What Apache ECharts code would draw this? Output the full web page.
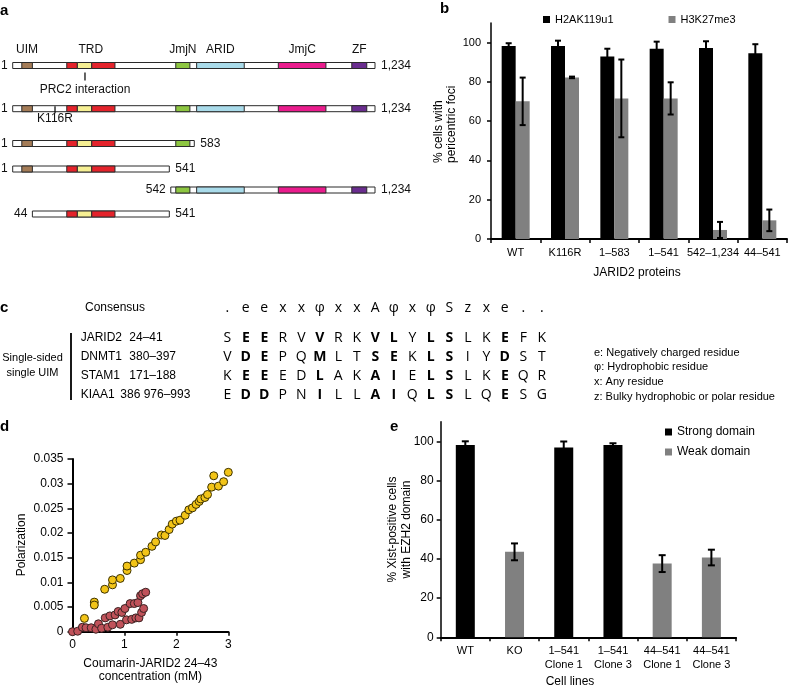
<!DOCTYPE html>
<html><head><meta charset="utf-8">
<script src="https://cdn.jsdelivr.net/npm/echarts@6/dist/echarts.min.js"></script>
<style>html,body{margin:0;padding:0;background:#fff}#c{width:788px;height:688px}</style>
</head><body><div id="c"></div>
<script>
// ---------- Panel a : JARID2 constructs (schematic amino-acid coordinates) ----------
const constructFrom = [1, 1, 1, 1, 539, 68];
const constructTo = [1234, 1234, 619, 534, 1234, 534];
const constructStartLabel = ['1', '1', '1', '1', '542', '44'];
const constructEndLabel = ['1,234', '1,234', '583', '541', '1,234', '541'];
const domainGroup = ['UIM', 'TRD', 'TRD', 'TRD', 'JmjN', 'ARID', 'JmjC', 'ZF'];
const domainStart = [32, 185, 221, 270, 556, 627, 905, 1155];
const domainEnd = [68, 221, 270, 349, 604, 789, 1067, 1206];
const annotationText = ['PRC2 interaction', 'K116R'];
const annotationPos = [247, 145];
const annotationRow = [0, 1];

// ---------- Panel b ----------
const bCategories = ['WT', 'K116R', '1–583', '1–541', '542–1,234', '44–541'];
const bH2AK = [98.3, 98.3, 92.9, 96.9, 97.3, 94.6];
const bH2AKErr = [1.4, 2.7, 4.0, 3.6, 3.4, 4.6];
const bH3K = [70.1, 82.3, 71.6, 71.6, 4.6, 9.5];
const bH3KErr = [12.1, 0.4, 19.8, 8.2, 4.1, 5.5];
const pctTicks = [0, 20, 40, 60, 80, 100];

// ---------- Panel c ----------
const consensus = ['.', 'e', 'e', 'x', 'x', 'φ', 'x', 'x', 'A', 'φ', 'x', 'φ', 'S', 'z', 'x', 'e', '.', '.'];
const uimNames = ['JARID2', 'DNMT1', 'STAM1', 'KIAA1'];
const uimRanges = ['24–41', '380–397', '171–188', '386 976–993'];
const uimSequences = ['SEERVVRKVLYLSLKEFK', 'VDEPQMLTSEKLSIYDST', 'KEEEDLAKAIELSLKEQR', 'EDDPNILLAIQLSLQESG'];
const boldColumns = [1, 2, 5, 8, 9, 11, 12, 15];
const keyLines = ['e: Negatively charged residue', 'φ: Hydrophobic residue', 'x: Any residue', 'z: Bulky hydrophobic or polar residue'];

// ---------- Panel d ----------
const dYellowX = [0.23,0.42,0.42,0.62,0.77,0.77,0.92,1.05,1.05,1.19,1.31,1.31,1.41,1.53,1.60,1.71,1.78,1.86,1.92,2.00,2.07,2.17,2.24,2.31,2.38,2.44,2.47,2.55,2.60,2.68,2.72,2.81,2.91,3.00];
const dYellowY = [0.0027,0.0060,0.0054,0.0086,0.0095,0.0105,0.0108,0.0124,0.0133,0.0139,0.0146,0.0155,0.0161,0.0173,0.0182,0.0196,0.0195,0.0207,0.0218,0.0224,0.0226,0.0236,0.0247,0.0251,0.0258,0.0264,0.0269,0.0272,0.0278,0.0293,0.0316,0.0295,0.0304,0.0323];
const dRedX = [0,0.10,0.19,0.26,0.36,0.45,0.50,0.56,0.63,0.68,0.72,0.77,0.82,0.88,0.92,0.95,1.01,1.04,1.11,1.14,1.19,1.22,1.26,1.28,1.31,1.33,1.35,1.37,1.41];
const dRedY = [0,0.0001,0.0009,0.0008,0.0008,0.0005,0.0016,0.0007,0.0028,0.0009,0.0032,0.0014,0.0034,0.0041,0.0015,0.0039,0.0047,0.0024,0.0057,0.0025,0.0057,0.0028,0.0059,0.0028,0.0073,0.0039,0.0077,0.0047,0.0080];
const dXTicks = [0, 1, 2, 3];

// ---------- Panel e ----------
const eCategories = ['WT', 'KO', '1–541\nClone 1', '1–541\nClone 3', '44–541\nClone 1', '44–541\nClone 3'];
const eStrong = [98.1, '-', 96.9, 98.1, '-', '-'];
const eWeak = ['-', 43.6, '-', '-', 37.6, 40.7];
const eErr = [1.9, 4.3, 3.0, 0.9, 4.3, 4.0];

// ---------- styling / layout ----------
const FONT = 'Liberation Sans, Arial, sans-serif';
const domainPalette = {UIM: '#a47c57', TRD: ['#e4232b', '#f6ef93', '#e4232b'], JmjN: '#8dc641', ARID: '#a9dbea', JmjC: '#ea1c8d', ZF: '#6a2d8f'};
function domainFill(i) {
  const g = domainGroup[i];
  if (g === 'TRD') { let k = 0; for (let j = 0; j < i; j++) if (domainGroup[j] === 'TRD') k++; return domainPalette.TRD[k]; }
  return domainPalette[g];
}
const rowCenters = [65.5, 108.7, 143.5, 169, 190, 214];
const BAR_H = 6, A_LEFT = 12.7, A_RIGHT = 375;
const GRAY = '#808080';

const grid = [], xAxis = [], yAxis = [], series = [];

// Panel a grids
rowCenters.forEach((cy, r) => {
  grid.push({left: A_LEFT, width: A_RIGHT - A_LEFT, top: cy - BAR_H / 2, height: BAR_H});
  xAxis.push({type: 'value', gridIndex: r, min: 1, max: 1234, show: false});
  yAxis.push({type: 'category', gridIndex: r, data: ['row'], show: false});
  const items = [[constructFrom[r], constructTo[r], -1, 0]];
  domainStart.forEach((s, i) => {
    if (s >= constructFrom[r] && domainEnd[i] <= constructTo[r]) items.push([s, domainEnd[i], i, 0]);
  });
  series.push({
    type: 'custom', xAxisIndex: r, yAxisIndex: r, silent: true,
    encode: {x: [0, 1], y: 3},
    data: items,
    renderItem: function (params, api) {
      const s = api.value(0), e = api.value(1), ci = api.value(2);
      const p1 = api.coord([s, 0]), p2 = api.coord([e, 0]);
      const h = api.size([0, 1])[1];
      const rect = {type: 'rect', shape: {x: p1[0], y: p1[1] - h / 2, width: p2[0] - p1[0], height: h},
        style: {fill: ci < 0 ? '#fff' : domainFill(ci), stroke: '#2a2a2a', lineWidth: 1}};
      if (ci >= 0) return rect;
      return {type: 'group', children: [rect,
        {type: 'text', style: {x: p1[0] - 5, y: p1[1], text: constructStartLabel[r], textAlign: 'right', textVerticalAlign: 'middle', font: '12px ' + FONT, fill: '#111'}},
        {type: 'text', style: {x: p2[0] + 6, y: p1[1], text: constructEndLabel[r], textAlign: 'left', textVerticalAlign: 'middle', font: '12px ' + FONT, fill: '#111'}}
      ]};
    }
  });
});
// domain name labels above first row
const groupNames = [...new Set(domainGroup)];
series.push({
  type: 'custom', xAxisIndex: 0, yAxisIndex: 0, silent: true, encode: {x: [0, 1], y: 3},
  data: groupNames.map((g, k) => {
    const idx = domainGroup.map((d, i) => d === g ? i : -1).filter(i => i >= 0);
    return [Math.min(...idx.map(i => domainStart[i])), Math.max(...idx.map(i => domainEnd[i])), k, 0];
  }),
  renderItem: function (params, api) {
    const p = api.coord([(api.value(0) + api.value(1)) / 2, 0]);
    return {type: 'text', style: {x: p[0], y: p[1] - 15.5, text: groupNames[api.value(2)], textAlign: 'center', textVerticalAlign: 'middle', font: '12px ' + FONT, fill: '#111'}};
  }
});
// annotations
annotationText.forEach((t, k) => {
  const r = annotationRow[k];
  const tickFrom = k === 0 ? 7 : -2.5, tickTo = k === 0 ? 15 : 4.5, textY = k === 0 ? 23.7 : 9.5;
  series.push({
    type: 'custom', xAxisIndex: r, yAxisIndex: r, silent: true, z: 5, encode: {x: 0, y: 1},
    data: [[annotationPos[k], 0]],
    renderItem: function (params, api) {
      const p = api.coord([api.value(0), 0]);
      return {type: 'group', children: [
        {type: 'line', shape: {x1: p[0], y1: p[1] + tickFrom, x2: p[0], y2: p[1] + tickTo}, style: {stroke: '#111', lineWidth: 1.3}},
        {type: 'text', style: {x: p[0], y: p[1] + textY, text: t, textAlign: 'center', textVerticalAlign: 'middle', font: '12px ' + FONT, fill: '#111'}}
      ]};
    }
  });
});

// error bar renderer
function errRenderer(offset, cap) {
  return function (params, api) {
    const c = api.value(0), lo = api.value(1), hi = api.value(2);
    const pHi = api.coord([c, hi]), pLo = api.coord([c, lo]);
    const x = pHi[0] + offset;
    const st = {stroke: '#000', lineWidth: 2};
    return {type: 'group', children: [
      {type: 'line', shape: {x1: x, y1: pHi[1], x2: x, y2: pLo[1]}, style: st},
      {type: 'line', shape: {x1: x - cap / 2, y1: pHi[1], x2: x + cap / 2, y2: pHi[1]}, style: st},
      {type: 'line', shape: {x1: x - cap / 2, y1: pLo[1], x2: x + cap / 2, y2: pLo[1]}, style: st}
    ]};
  };
}

// Panel b
const B = 6;
grid.push({left: 491, right: 1, top: 23, height: 216});
xAxis.push({type: 'category', gridIndex: B, data: bCategories,
  axisLine: {lineStyle: {color: '#000', width: 2}},
  axisTick: {show: true, length: 4, lineStyle: {color: '#000', width: 1.5}},
  axisLabel: {color: '#000', fontSize: 11, margin: 8, interval: 0}});
yAxis.push({type: 'value', gridIndex: B, min: 0, max: 110, splitLine: {show: false},
  axisLine: {show: true, lineStyle: {color: '#000', width: 1.5}},
  axisTick: {show: true, length: 4, customValues: pctTicks, lineStyle: {color: '#000', width: 1.5}},
  axisLabel: {color: '#000', fontSize: 11, margin: 10, customValues: pctTicks}});
series.push({name: 'H2AK119u1', type: 'bar', xAxisIndex: B, yAxisIndex: B, data: bH2AK, barWidth: 14, barGap: '0%', itemStyle: {color: '#000'}});
series.push({name: 'H3K27me3', type: 'bar', xAxisIndex: B, yAxisIndex: B, data: bH3K, barWidth: 14, barGap: '0%', itemStyle: {color: GRAY}});
series.push({type: 'custom', xAxisIndex: B, yAxisIndex: B, z: 4, silent: true, encode: {x: 0, y: [1, 2]},
  data: bH2AK.map((v, i) => [i, v - bH2AKErr[i], v + bH2AKErr[i]]), renderItem: errRenderer(-7, 6)});
series.push({type: 'custom', xAxisIndex: B, yAxisIndex: B, z: 4, silent: true, encode: {x: 0, y: [1, 2]},
  data: bH3K.map((v, i) => [i, v - bH3KErr[i], v + bH3KErr[i]]), renderItem: errRenderer(7, 6)});

// Panel d
const D = 7;
grid.push({left: 72.5, width: 155.8, top: 459, height: 172.7});
xAxis.push({type: 'value', gridIndex: D, min: 0, max: 3, splitLine: {show: false},
  axisLine: {lineStyle: {color: '#000', width: 2}},
  axisTick: {show: true, length: 4, customValues: dXTicks, lineStyle: {color: '#000', width: 1.5}},
  axisLabel: {color: '#000', fontSize: 12, margin: 7, customValues: dXTicks}});
yAxis.push({type: 'value', gridIndex: D, min: 0, max: 0.035, interval: 0.005, splitLine: {show: false},
  axisLine: {show: true, lineStyle: {color: '#000', width: 2}},
  axisTick: {show: true, length: 5, lineStyle: {color: '#000', width: 1.5}},
  axisLabel: {color: '#000', fontSize: 12, margin: 9}});
series.push({type: 'scatter', xAxisIndex: D, yAxisIndex: D, symbolSize: 8, z: 3,
  data: dRedX.map((x, i) => [x, dRedY[i]]), itemStyle: {color: '#c0525a', borderColor: '#3a2222', borderWidth: 1, opacity: 1}});
series.push({type: 'scatter', xAxisIndex: D, yAxisIndex: D, symbolSize: 8, z: 4,
  data: dYellowX.map((x, i) => [x, dYellowY[i]]), itemStyle: {color: '#f2c418', borderColor: '#3d3200', borderWidth: 1, opacity: 1}});

// Panel e
const E = 8;
grid.push({left: 440.7, right: 52, top: 421.7, height: 215.6});
xAxis.push({type: 'category', gridIndex: E, data: eCategories,
  axisLine: {lineStyle: {color: '#000', width: 2}},
  axisTick: {show: true, length: 4, lineStyle: {color: '#000', width: 1.5}},
  axisLabel: {color: '#000', fontSize: 11, margin: 7, interval: 0, lineHeight: 14}});
yAxis.push({type: 'value', gridIndex: E, min: 0, max: 110, splitLine: {show: false},
  axisLine: {show: true, lineStyle: {color: '#000', width: 1.5}},
  axisTick: {show: true, length: 4, customValues: pctTicks, lineStyle: {color: '#000', width: 1.5}},
  axisLabel: {color: '#000', fontSize: 12, margin: 7, customValues: pctTicks}});
series.push({name: 'Strong domain', type: 'bar', stack: 'e', xAxisIndex: E, yAxisIndex: E, data: eStrong, barWidth: 19, itemStyle: {color: '#000'}});
series.push({name: 'Weak domain', type: 'bar', stack: 'e', xAxisIndex: E, yAxisIndex: E, data: eWeak, barWidth: 19, itemStyle: {color: GRAY}});
series.push({type: 'custom', xAxisIndex: E, yAxisIndex: E, z: 4, silent: true, encode: {x: 0, y: [1, 2]},
  data: eErr.map((d, i) => { const v = eStrong[i] !== '-' ? eStrong[i] : eWeak[i]; return [i, v - d, v + d]; }),
  renderItem: errRenderer(0, 7)});

// ---------- text graphics ----------
const G = [];
function txt(x, y, text, font, align, extra) {
  G.push(Object.assign({type: 'text', x: x, y: y, silent: true,
    style: {text: text, font: font, fill: '#000', textAlign: align || 'left', textVerticalAlign: 'middle'}}, extra || {}));
}
const LETTER = 'bold 15px ' + FONT;
txt(0, 11, 'a', LETTER);
txt(440, 9, 'b', LETTER);
txt(0, 308, 'c', LETTER);
txt(0, 427, 'd', LETTER);
txt(390, 427, 'e', LETTER);

// axis names
G.push({type: 'text', x: 445.5, y: 163, rotation: Math.PI / 2, silent: true,
  style: {text: '% cells with\npericentric foci', font: '12px ' + FONT, fill: '#000', textAlign: 'left', textVerticalAlign: 'middle', lineHeight: 13}});
txt(637, 273, 'JARID2 proteins', '12px ' + FONT, 'center');
G.push({type: 'text', x: 21.7, y: 545, rotation: Math.PI / 2, silent: true,
  style: {text: 'Polarization', font: '12px ' + FONT, fill: '#000', textAlign: 'center', textVerticalAlign: 'middle'}});
G.push({type: 'text', x: 150.4, y: 670, silent: true,
  style: {text: 'Coumarin-JARID2 24–43\nconcentration (mM)', font: '12px ' + FONT, fill: '#000', textAlign: 'center', textVerticalAlign: 'middle', lineHeight: 13.5}});
G.push({type: 'text', x: 399.5, y: 529.5, rotation: Math.PI / 2, silent: true,
  style: {text: '% Xist-positive cells\nwith EZH2 domain', font: '12px ' + FONT, fill: '#000', textAlign: 'center', textVerticalAlign: 'middle', lineHeight: 14.5}});
txt(570, 681.5, 'Cell lines', '12px ' + FONT, 'center');

// panel c
const SEQ_X0 = 227.3, SEQ_DX = 18.5, SEQ_FONT = '14px Open Sans, ' + FONT;
const seqRowY = [337.7, 356.7, 376, 395];
const rangeX = [129.3, 129.3, 129.3, 120.3];
txt(115, 308, 'Consensus', '12px ' + FONT, 'center');
consensus.forEach((ch, i) => txt(SEQ_X0 + i * SEQ_DX, 308, ch, SEQ_FONT, 'center'));
uimNames.forEach((n, r) => {
  txt(80.7, seqRowY[r], n, '12px ' + FONT, 'left');
  txt(rangeX[r], seqRowY[r], uimRanges[r], '12px ' + FONT, 'left');
  uimSequences[r].split('').forEach((ch, i) => {
    const bold = boldColumns.indexOf(i) >= 0;
    txt(SEQ_X0 + i * SEQ_DX, seqRowY[r], ch, (bold ? 'bold ' : '') + SEQ_FONT, 'center');
  });
});
txt(32.5, 358.3, 'Single-sided', '11px ' + FONT, 'center');
txt(32.5, 373.3, 'single UIM', '11px ' + FONT, 'center');
G.push({type: 'line', silent: true, shape: {x1: 71, y1: 333, x2: 71, y2: 400}, style: {stroke: '#000', lineWidth: 1.8}});
const keyY = [352.5, 367, 382, 397];
keyLines.forEach((t, i) => txt(594, keyY[i], t, '11px ' + FONT, 'left'));

const option = {
  animation: false,
  backgroundColor: '#fff',
  textStyle: {fontFamily: FONT},
  grid: grid, xAxis: xAxis, yAxis: yAxis, series: series,
  legend: [
    {data: ['H2AK119u1', 'H3K27me3'], left: 538, top: 9, icon: 'rect', itemWidth: 7, itemHeight: 7, itemGap: 55,
      textStyle: {fontSize: 11, color: '#000'}, selectedMode: false},
    {data: ['Strong domain', 'Weak domain'], left: 660, top: 421, orient: 'vertical', icon: 'rect', itemWidth: 7, itemHeight: 7, itemGap: 8,
      textStyle: {fontSize: 12, color: '#000'}, selectedMode: false}
  ],
  graphic: {elements: G}
};
const chart = echarts.init(document.getElementById('c'), null, {renderer: 'canvas'});
chart.setOption(option);
</script></body></html>
